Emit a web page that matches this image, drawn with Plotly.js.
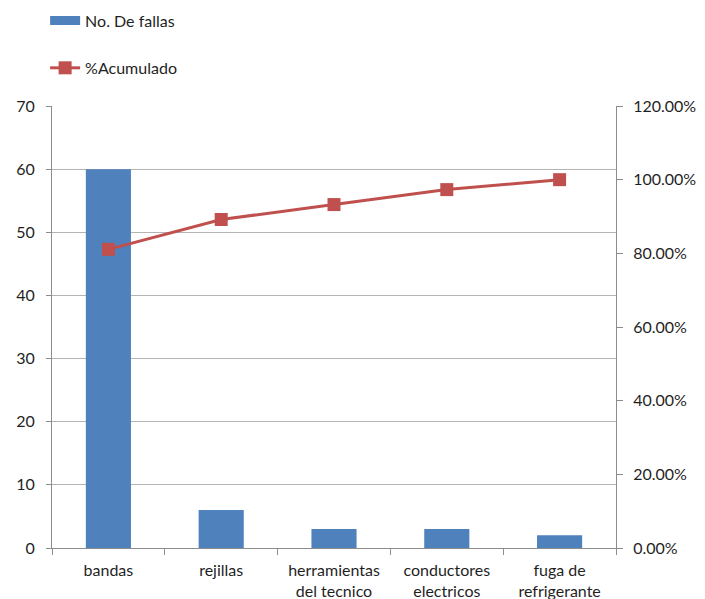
<!DOCTYPE html>
<html>
<head>
<meta charset="utf-8">
<script src="https://cdn.plot.ly/plotly-3.0.1.min.js"></script>
<style>
  html, body { margin: 0; padding: 0; background: #fff; }
  #chart { width: 705px; height: 599px; }
</style>
</head>
<body>
<div id="chart"></div>
<script>
// Pareto de fallas: número de fallas por causa y porcentaje acumulado
const categorias = ['bandas', 'rejillas', 'herramientas<br>del tecnico', 'conductores<br>electricos', 'fuga de<br>refrigerante'];
const fallas = [60, 6, 3, 3, 2];
const acumulado = [0.8108, 0.8919, 0.9324, 0.9730, 1.0];

const azul = '#4F81BD';
const rojo = '#C0504D';
const fuente = { family: 'Lato, "Open Sans", sans-serif', size: 16, color: '#1F1F1F' };

const barras = {
  type: 'bar',
  x: categorias,
  y: fallas,
  name: 'No. De fallas',
  marker: { color: azul },
  showlegend: false,
  hoverinfo: 'x+y'
};

// Entrada de leyenda con muestra rectangular para la serie de barras
const leyendaBarras = {
  type: 'scatter',
  mode: 'lines',
  x: [null],
  y: [null],
  name: 'No. De fallas',
  line: { color: azul, width: 9 },
  legend: 'legend',
  hoverinfo: 'skip'
};

const linea = {
  type: 'scatter',
  mode: 'lines+markers',
  x: categorias,
  y: acumulado,
  yaxis: 'y2',
  name: '%Acumulado',
  line: { color: rojo, width: 3 },
  marker: { symbol: 'square', size: 13, color: rojo },
  legend: 'legend2'
};

const layout = {
  width: 705,
  height: 599,
  margin: { l: 52, r: 89, t: 106, b: 51, autoexpand: false },
  paper_bgcolor: '#fff',
  plot_bgcolor: '#fff',
  font: fuente,
  bargap: 0.6,
  xaxis: {
    type: 'category',
    automargin: false,
    tickangle: 0,
    showline: true,
    linecolor: '#8C8C8C',
    linewidth: 1,
    ticks: 'outside',
    tickson: 'boundaries',
    ticklen: 6,
    tickcolor: '#8C8C8C',
    showgrid: false,
    ticklabelstandoff: 8,
    tickfont: fuente,
    fixedrange: true
  },
  yaxis: {
    automargin: false,
    range: [0, 70],
    dtick: 10,
    showline: true,
    linecolor: '#8C8C8C',
    ticks: 'outside',
    ticklen: 5,
    tickcolor: '#8C8C8C',
    showgrid: true,
    gridcolor: '#B4B4B4',
    gridwidth: 1,
    zeroline: false,
    ticklabelstandoff: 8,
    tickfont: fuente
  },
  yaxis2: {
    automargin: false,
    overlaying: 'y',
    side: 'right',
    range: [0, 1.2],
    dtick: 0.2,
    tickformat: '.2%',
    showline: true,
    linecolor: '#8C8C8C',
    ticks: 'outside',
    ticklen: 6,
    tickcolor: '#8C8C8C',
    showgrid: false,
    zeroline: false,
    ticklabelstandoff: 7,
    tickfont: fuente
  },
  legend: {
    xref: 'container', yref: 'container',
    x: 0.064, y: 0.994,
    xanchor: 'left', yanchor: 'top',
    bgcolor: 'rgba(0,0,0,0)',
    font: fuente
  },
  legend2: {
    xref: 'container', yref: 'container',
    x: 0.064, y: 0.915,
    xanchor: 'left', yanchor: 'top',
    bgcolor: 'rgba(0,0,0,0)',
    font: fuente
  }
};

Plotly.newPlot('chart', [barras, leyendaBarras, linea], layout, { displayModeBar: false, staticPlot: true });
</script>
</body>
</html>
